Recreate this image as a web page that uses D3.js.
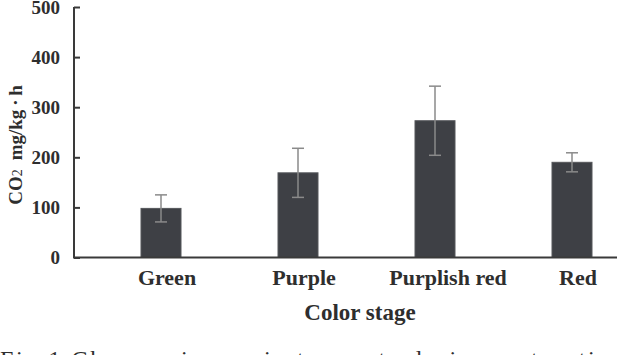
<html>
    <head>
        <script src="https://d3js.org/d3.v7.min.js"></script>
        <style>
            body {
                margin: 0;
                background: white;
            }
            text {
                font-family: "Liberation Serif", "Times New Roman", serif;
                fill: #2e2e2e;
            }
        </style>
    </head>
    <body>
        <svg id="chart" width="617" height="355"></svg>

        <script>
            // data
            const stages = ["Green", "Purple", "Purplish red", "Red"];
            const rate = [98, 169, 273, 190];
            const rateErr = [27, 49, 69, 19];
            const yTicks = [0, 100, 200, 300, 400, 500];

            const svg = d3.select("#chart");
            const axisLeftX = 74;
            const axisRightX = 617;

            const y = d3.scaleLinear().domain([0, 500]).range([257.5, 7]);
            const x = d3.scaleBand().domain(stages)
                        .range([92.5, 640.5])
                        .paddingInner(0.708)
                        .paddingOuter(0.354);

            const rows = stages.map((s, i) => ({ stage: s, value: rate[i], err: rateErr[i] }));

            // bars
            svg.selectAll("rect.bar").data(rows)
               .join("rect")
               .attr("class", "bar")
               .attr("x", d => x(d.stage))
               .attr("y", d => y(d.value))
               .attr("width", x.bandwidth())
               .attr("height", d => y(0) - y(d.value))
               .attr("fill", "#3e4045")
               .attr("stroke", "#55575b")
               .attr("stroke-width", 1);

            // error bars
            const cap = 6;
            const errG = svg.append("g")
                            .attr("stroke", "#8a8a8a")
                            .attr("stroke-width", 1.5);
            errG.selectAll("line.stem").data(rows)
                .join("line")
                .attr("class", "stem")
                .attr("x1", d => x(d.stage) + x.bandwidth() / 2)
                .attr("x2", d => x(d.stage) + x.bandwidth() / 2)
                .attr("y1", d => y(d.value + d.err))
                .attr("y2", d => y(d.value - d.err));
            errG.selectAll("line.capTop").data(rows)
                .join("line")
                .attr("class", "capTop")
                .attr("x1", d => x(d.stage) + x.bandwidth() / 2 - cap)
                .attr("x2", d => x(d.stage) + x.bandwidth() / 2 + cap)
                .attr("y1", d => y(d.value + d.err))
                .attr("y2", d => y(d.value + d.err));
            errG.selectAll("line.capBot").data(rows)
                .join("line")
                .attr("class", "capBot")
                .attr("x1", d => x(d.stage) + x.bandwidth() / 2 - cap)
                .attr("x2", d => x(d.stage) + x.bandwidth() / 2 + cap)
                .attr("y1", d => y(d.value - d.err))
                .attr("y2", d => y(d.value - d.err));

            // y axis, ticks point inward
            const yAxis = svg.append("g")
                             .attr("transform", "translate(" + axisLeftX + ",0)")
                             .call(d3.axisLeft(y).tickValues(yTicks)
                                     .tickSizeInner(-6).tickSizeOuter(0)
                                     .tickPadding(14));
            yAxis.select(".domain").remove();
            yAxis.selectAll(".tick line").attr("stroke", "#3a3a3a").attr("stroke-width", 2);
            yAxis.selectAll(".tick text")
                 .style("font-family", "'Liberation Serif', serif")
                 .style("font-size", "19px")
                 .style("font-weight", "bold")
                 .attr("fill", "#2e2e2e");

            svg.append("line")
               .attr("x1", axisLeftX).attr("x2", axisLeftX)
               .attr("y1", y(500)).attr("y2", y(0))
               .attr("stroke", "#3a3a3a").attr("stroke-width", 2);
            svg.append("line")
               .attr("x1", axisLeftX - 1).attr("x2", axisRightX)
               .attr("y1", y(0)).attr("y2", y(0))
               .attr("stroke", "#3a3a3a").attr("stroke-width", 2);

            // category labels
            const xAxis = svg.append("g")
                             .attr("transform", "translate(0," + y(0) + ")")
                             .call(d3.axisBottom(x).tickSize(0).tickPadding(0));
            xAxis.select(".domain").remove();
            xAxis.selectAll(".tick text")
                 .attr("y", 27.5)
                 .attr("dy", 0)
                 .attr("dx", d => d === "Purplish red" ? 13 : 6)
                 .style("font-family", "'Liberation Serif', serif")
                 .style("font-size", "22px")
                 .style("font-weight", "bold")
                 .attr("fill", "#2e2e2e");

            // axis titles
            svg.append("text")
               .attr("x", 360)
               .attr("y", 320)
               .attr("text-anchor", "middle")
               .style("font-size", "23px")
               .style("font-weight", "bold")
               .text("Color stage");

            const yTitle = svg.append("text")
                              .attr("transform", "translate(22,145) rotate(-90)")
                              .attr("text-anchor", "middle")
                              .style("font-size", "19px")
                              .style("font-weight", "bold");
            yTitle.append("tspan").text("CO");
            yTitle.append("tspan").style("font-size", "14px").style("font-weight", "normal").text("2");
            yTitle.append("tspan").attr("dx", 9).text("mg/kg\u2009\u00b7\u2009h");

            // figure caption, mostly cut off by the bottom edge
            svg.append("text")
               .attr("x", 0)
               .attr("y", 367)
               .style("font-size", "24px")
               .style("letter-spacing", "2.6px")
               .attr("fill", "#555")
               .text("Fig.1  Changes in respiratory rate during maturation");
        </script>
    </body>
</html>
